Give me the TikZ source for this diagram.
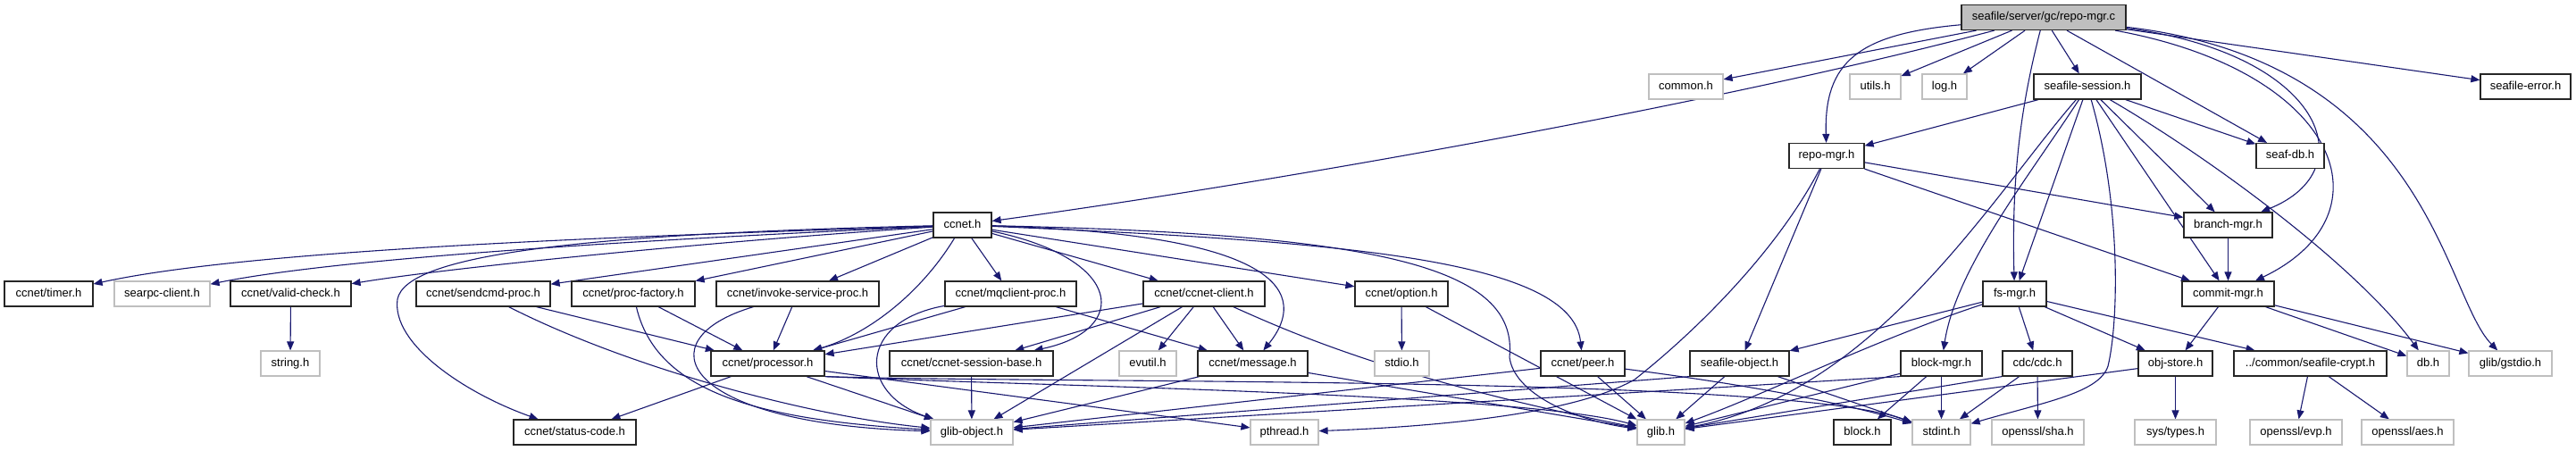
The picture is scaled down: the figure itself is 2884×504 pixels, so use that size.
\documentclass[tikz,border=0pt]{standalone}
\usepackage{fontspec}
\setmainfont{Liberation Sans}
\usetikzlibrary{arrows.meta}
\definecolor{edgec}{HTML}{191970}
\definecolor{extc}{HTML}{BFBFBF}
\definecolor{mainc}{HTML}{BFBFBF}
\pgfdeclarelayer{bg}
\pgfsetlayers{bg,main}
\newcommand\nd[6]{\node[#6, minimum width={(#3-#2)*1pt}] (#1) at ({(#2+#3)/2},#4) {#5};}
\tikzset{
  nbox/.style={rectangle, inner sep=0pt, minimum height=28pt, text height=9.5pt, text depth=2.7pt, font=\fontsize{13}{15}\selectfont, line width=1.2pt, fill=white},
  doc/.style={nbox, draw=black!85},
  ext/.style={nbox, draw=extc},
  mainbox/.style={nbox, draw=black!85, fill=mainc},
  dep/.style={draw=edgec, line width=1.1pt, -{Triangle[length=10pt,width=8pt]}},
}
\begin{document}
\begin{tikzpicture}[x=1pt,y=-1pt]
\begin{pgfonlayer}{bg}
\fill[white] (0,0) rectangle (2884,504);
\end{pgfonlayer}
\useasboundingbox (0,0) rectangle (2884,504);
% row 0
\nd{main}{2196}{2380}{19.5}{seafile/server/gc/repo-mgr.c}{mainbox}
% row 1
\nd{common}{1846}{1929}{97}{common.h}{ext}
\nd{utils}{2071}{2128}{97}{utils.h}{ext}
\nd{logh}{2152}{2202}{97}{log.h}{ext}
\nd{session}{2277}{2397}{97}{seafile-session.h}{doc}
\nd{errorh}{2777}{2878}{97}{seafile-error.h}{doc}
% row 2
\nd{repomgr}{2003}{2087}{174.5}{repo-mgr.h}{doc}
\nd{seafdb}{2526}{2602}{174.5}{seaf-db.h}{doc}
% row 3
\nd{ccnet}{1045}{1110}{252}{ccnet.h}{doc}
\nd{branch}{2445}{2544}{252}{branch-mgr.h}{doc}
% row 4
\nd{timer}{5}{104}{329}{ccnet/timer.h}{doc}
\nd{searpc}{128}{235}{329}{searpc-client.h}{ext}
\nd{valid}{258}{393}{329}{ccnet/valid-check.h}{doc}
\nd{sendcmd}{466}{616}{329}{ccnet/sendcmd-proc.h}{doc}
\nd{procfac}{640}{778}{329}{ccnet/proc-factory.h}{doc}
\nd{invoke}{802}{984}{329}{ccnet/invoke-service-proc.h}{doc}
\nd{mqclient}{1058}{1205}{329}{ccnet/mqclient-proc.h}{doc}
\nd{client}{1280}{1416}{329}{ccnet/ccnet-client.h}{doc}
\nd{option}{1517}{1621}{329}{ccnet/option.h}{doc}
\nd{fsmgr}{2220}{2291}{329}{fs-mgr.h}{doc}
\nd{commit}{2443}{2546}{329}{commit-mgr.h}{doc}
% row 5
\nd{string}{292}{358}{407}{string.h}{ext}
\nd{processor}{796}{923}{407}{ccnet/processor.h}{doc}
\nd{sessbase}{996}{1179}{407}{ccnet/ccnet-session-base.h}{doc}
\nd{evutil}{1253}{1317}{407}{evutil.h}{ext}
\nd{message}{1341}{1464}{407}{ccnet/message.h}{doc}
\nd{stdio}{1539}{1600}{407}{stdio.h}{ext}
\nd{peer}{1725}{1819}{407}{ccnet/peer.h}{doc}
\nd{seafobj}{1892}{2003}{407}{seafile-object.h}{doc}
\nd{blockmgr}{2128}{2219}{407}{block-mgr.h}{doc}
\nd{cdc}{2242}{2320}{407}{cdc/cdc.h}{doc}
\nd{objstore}{2394}{2477}{407}{obj-store.h}{doc}
\nd{crypt}{2501}{2672}{407}{../common/seafile-crypt.h}{doc}
\nd{db}{2695}{2742}{407}{db.h}{ext}
\nd{gstdio}{2764}{2857}{407}{glib/gstdio.h}{ext}
% row 6
\nd{status}{575}{712}{484}{ccnet/status-code.h}{doc}
\nd{glibobj}{1042}{1134}{484}{glib-object.h}{ext}
\nd{pthread}{1400}{1476}{484}{pthread.h}{ext}
\nd{glib}{1833}{1886}{484}{glib.h}{ext}
\nd{block}{2053}{2117}{484}{block.h}{doc}
\nd{stdint}{2141}{2206}{484}{stdint.h}{ext}
\nd{sha}{2230}{2333}{484}{openssl/sha.h}{ext}
\nd{systypes}{2390}{2481}{484}{sys/types.h}{ext}
\nd{evp}{2519}{2622}{484}{openssl/evp.h}{ext}
\nd{aes}{2644}{2747}{484}{openssl/aes.h}{ext}

\begin{pgfonlayer}{bg}
% edges from main
\draw[dep] (main) -- (common);
\draw[dep] (main) .. controls (1900,122) and (1400,208) .. (ccnet);
\draw[dep] (main) -- (utils);
\draw[dep] (main) -- (logh);
\draw[dep] (main) .. controls (2080,38) and (2042,70) .. (repomgr);
\draw[dep] (main) .. controls (2262,120) and (2252,200) .. (fsmgr);
\draw[dep] (main) -- (session);
\draw[dep] (main) -- (seafdb);
\draw[dep] (main) .. controls (2600,60) and (2650,190) .. (branch);
\draw[dep] (main) .. controls (2620,80) and (2680,240) .. (commit);
\draw[dep] (main) .. controls (2720,70) and (2735,330) .. (gstdio);
\draw[dep] (main) -- (errorh);
% seafile-session.h
\draw[dep] (session) -- (repomgr);
\draw[dep] (session) -- (seafdb);
\draw[dep] (session) -- (branch);
\draw[dep] (session) -- (commit);
\draw[dep] (session) .. controls (2480,180) and (2640,300) .. (db);
\draw[dep] (session) -- (fsmgr);
\draw[dep] (session) .. controls (2270,200) and (2190,300) .. (blockmgr);
\draw[dep] (session) .. controls (2375,230) and (2372,360) .. (2360,410) .. controls (2350,440) and (2290,450) .. (stdint);
\draw[dep] (session) .. controls (2230,220) and (2100,440) .. (glib);
% repo-mgr.h
\draw[dep] (repomgr) -- (branch);
\draw[dep] (repomgr) -- (commit);
\draw[dep] (repomgr) -- (seafobj);
\draw[dep] (repomgr) .. controls (1990,280) and (1900,370) .. (1830,425) .. controls (1760,465) and (1600,478) .. (pthread);
% branch / commit
\draw[dep] (branch) -- (commit);
\draw[dep] (commit) -- (objstore);
\draw[dep] (commit) -- (db);
\draw[dep] (commit) -- (gstdio);
% fs-mgr.h
\draw[dep] (fsmgr) -- (seafobj);
\draw[dep] (fsmgr) .. controls (2100,380) and (1980,440) .. (glib);
\draw[dep] (fsmgr) -- (cdc);
\draw[dep] (fsmgr) -- (objstore);
\draw[dep] (fsmgr) -- (crypt);
% seafile-object.h
\draw[dep] (seafobj.south west) -- (glibobj);
\draw[dep] (seafobj) -- (glib);
\draw[dep] (seafobj) -- (stdint);
% block-mgr.h
\draw[dep] (blockmgr.south west) -- (glibobj);
\draw[dep] (blockmgr) -- (glib);
\draw[dep] (blockmgr) -- (block);
\draw[dep] (blockmgr) -- (stdint);
% cdc.h
\draw[dep] (cdc.south west) -- (glib);
\draw[dep] (cdc) -- (stdint);
\draw[dep] (cdc) -- (sha);
% obj-store.h
\draw[dep] (objstore) -- (glib);
\draw[dep] (objstore) -- (systypes);
% seafile-crypt.h
\draw[dep] (crypt) -- (evp);
\draw[dep] (crypt) -- (aes);
% ccnet.h
\draw[dep] (ccnet) .. controls (800,262) and (300,275) .. (timer);
\draw[dep] (ccnet) .. controls (800,265) and (400,285) .. (searpc);
\draw[dep] (ccnet) .. controls (800,270) and (500,300) .. (valid);
\draw[dep] (ccnet) -- (sendcmd);
\draw[dep] (ccnet) -- (procfac);
\draw[dep] (ccnet) -- (invoke);
\draw[dep] (ccnet) -- (mqclient);
\draw[dep] (ccnet) -- (client);
\draw[dep] (ccnet) -- (option);
\draw[dep] (ccnet) .. controls (1500,270) and (1760,290) .. (peer);
\draw[dep] (ccnet) .. controls (1030,330) and (970,375) .. (processor);
\draw[dep] (ccnet) .. controls (1440,262) and (1465,330) .. (message);
\draw[dep] (ccnet) .. controls (1260,290) and (1265,370) .. (sessbase);
\draw[dep] (ccnet) .. controls (650,262) and (455,285) .. (445,335) .. controls (438,385) and (520,440) .. (status);
\draw[dep] (ccnet) .. controls (1550,262) and (1700,300) .. (1690,400) .. controls (1695,440) and (1760,470) .. (glib);
% valid-check
\draw[dep] (valid) -- (string);
% proc headers
\draw[dep] (sendcmd) -- (processor);
\draw[dep] (sendcmd) .. controls (700,410) and (900,465) .. (glibobj);
\draw[dep] (procfac) -- (processor);
\draw[dep] (procfac) .. controls (735,440) and (850,470) .. (glibobj);
\draw[dep] (invoke) -- (processor);
\draw[dep] (invoke) .. controls (720,380) and (760,475) .. (glibobj);
\draw[dep] (mqclient) -- (processor);
\draw[dep] (mqclient) -- (message);
\draw[dep] (mqclient) .. controls (960,360) and (960,440) .. (glibobj);
% ccnet-client.h
\draw[dep] (client) -- (processor);
\draw[dep] (client) -- (sessbase);
\draw[dep] (client) -- (evutil);
\draw[dep] (client) -- (message);
\draw[dep] (client) -- (glibobj);
\draw[dep] (client) .. controls (1440,370) and (1560,425) .. (glib);
% option, peer, message, session-base
\draw[dep] (option) -- (stdio);
\draw[dep] (option) -- (glib);
\draw[dep] (peer) -- (glibobj);
\draw[dep] (peer) -- (glib);
\draw[dep] (peer) .. controls (1950,430) and (2060,450) .. (stdint);
\draw[dep] (message) -- (glibobj);
\draw[dep] (message) -- (glib);
\draw[dep] (sessbase) -- (glibobj);
% processor.h
\draw[dep] (processor) -- (status);
\draw[dep] (processor) -- (glibobj);
\draw[dep] (processor) -- (pthread);
\draw[dep] (processor.south east) .. controls (1150,432) and (1700,440) .. (glib);
\draw[dep] (processor.south east) .. controls (1200,430) and (1990,420) .. (stdint);
\end{pgfonlayer}
\end{tikzpicture}
\end{document}
